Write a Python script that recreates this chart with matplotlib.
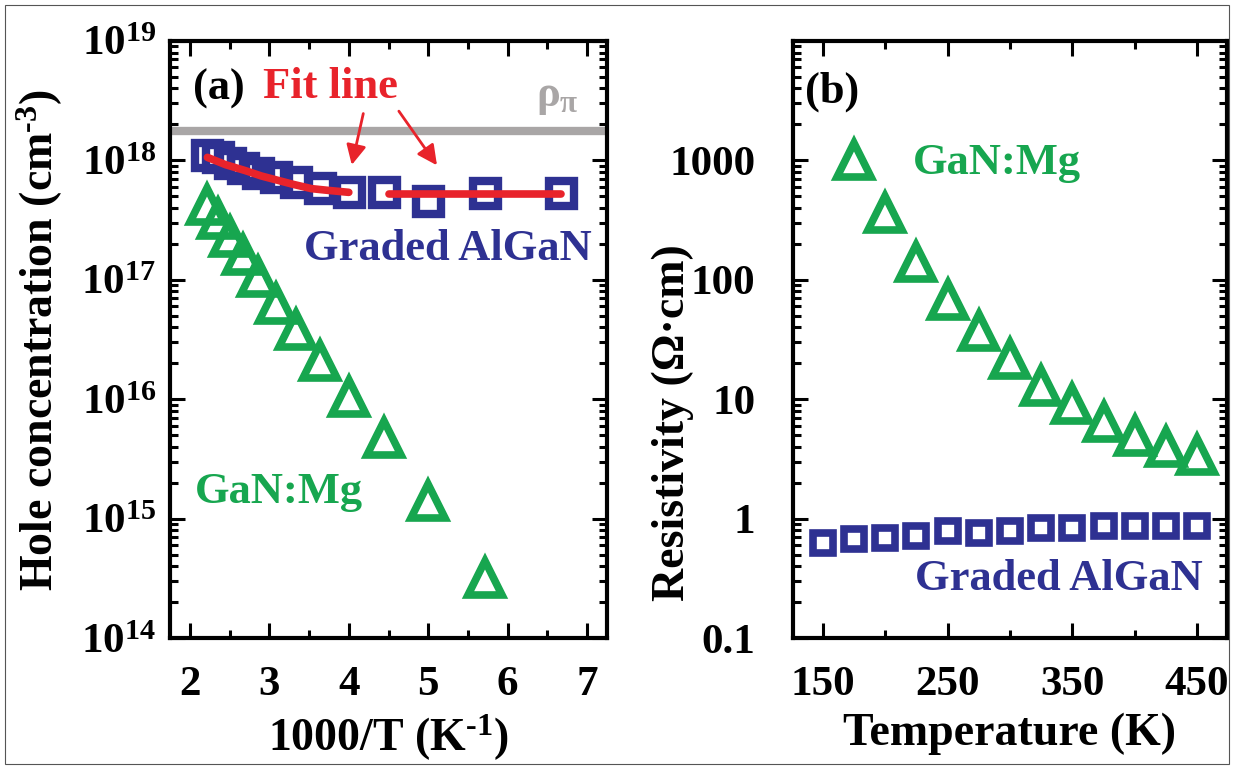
import matplotlib
matplotlib.use('Agg')
import matplotlib.pyplot as plt
from matplotlib.ticker import LogLocator, NullFormatter, FixedLocator
import numpy as np

plt.rcParams['font.family'] = ['Liberation Serif', 'DejaVu Serif']
plt.rcParams['font.weight'] = 'bold'
plt.rcParams['mathtext.fontset'] = 'custom'
plt.rcParams['mathtext.rm'] = 'Liberation Serif:bold'
plt.rcParams['mathtext.bf'] = 'Liberation Serif:bold'
plt.rcParams['mathtext.it'] = 'Liberation Serif:bold'

# ---- data, panel (a): hole concentration vs 1000/T
invT_gan = [5.71, 5.00, 4.44, 4.00, 3.64, 3.33, 3.08, 2.86, 2.67, 2.50, 2.35, 2.22]
p_gan = [3.2e14, 1.4e15, 4.7e15, 1.05e16, 2.1e16, 3.8e16, 6.3e16, 1.05e17,
         1.6e17, 2.3e17, 3.2e17, 4.2e17]
invT_alg = [6.67, 5.71, 5.00, 4.44, 4.00, 3.64, 3.33, 3.08, 2.86, 2.67, 2.50, 2.35, 2.22]
p_alg = [5.3e17, 5.3e17, 4.6e17, 5.4e17, 5.4e17, 5.9e17, 6.6e17, 7.2e17,
         7.9e17, 8.7e17, 9.6e17, 1.06e18, 1.12e18]
fit1_x = [2.22, 2.45, 2.70, 2.90, 3.11, 3.30, 3.53, 3.75, 4.00]
fit1_y = [1.06e18, 9.2e17, 8.2e17, 7.4e17, 6.8e17, 6.3e17, 5.8e17, 5.6e17, 5.4e17]
fit2_x = [4.50, 6.67]
fit2_y = [5.2e17, 5.2e17]
p_pi = 1.75e18

# ---- data, panel (b): resistivity vs T
T_gan = [175, 200, 225, 250, 275, 300, 325, 350, 375, 400, 425, 450]
rho_gan = [1000, 360, 142, 68, 37, 21.5, 13, 9.1, 6.5, 4.9, 4.0, 3.4]
T_alg = [150, 175, 200, 225, 250, 275, 300, 325, 350, 375, 400, 425, 450]
rho_alg = [0.62, 0.67, 0.69, 0.72, 0.78, 0.76, 0.79, 0.83, 0.84, 0.86, 0.86, 0.86, 0.86]

green = '#17a64f'
blue = '#2e3192'
red = '#e8232b'
gray = '#a9a6a6'

fs_tick = 31
fs_lab = 33
fs_txt = 32

fig = plt.figure(figsize=(12.34, 7.66), dpi=100)
ax1 = fig.add_axes([0.1378, 0.1671, 0.3541, 0.7794])
ax2 = fig.add_axes([0.6426, 0.1671, 0.3517, 0.7794])

# frame around the whole picture
fig.patches.append(plt.Rectangle((0.004, 0.003), 0.992, 0.99, transform=fig.transFigure,
                                 fill=False, edgecolor='#555555', lw=0.8))


def style(ax, ypad):
    for s in ax.spines.values():
        s.set_linewidth(3)
    ax.tick_params(axis='both', which='both', direction='in', top=True, right=True)
    ax.tick_params(which='major', length=11, width=2.2, labelsize=fs_tick)
    ax.tick_params(which='minor', length=6, width=2.2)
    ax.tick_params(axis='x', which='major', pad=20)
    ax.tick_params(axis='y', which='major', pad=ypad)


# panel (a)
ax1.axhline(p_pi, color=gray, lw=6, zorder=1)
ax1.plot(invT_alg, p_alg, 's', ms=18, mew=6, mfc='none', mec=blue, zorder=2)
ax1.plot(invT_gan, p_gan, '^', ms=25, mew=5.5, mfc='none', mec=green, zorder=2)
ax1.plot(fit1_x, fit1_y, '-', color=red, lw=5.5, solid_capstyle='round', zorder=3)
ax1.plot(fit2_x, fit2_y, '-', color=red, lw=5.5, solid_capstyle='round', zorder=3)
ax1.set_yscale('log')
ax1.set_xlim(1.75, 7.25)
ax1.set_ylim(1e14, 1e19)
style(ax1, 10)
ax1.xaxis.set_major_locator(FixedLocator([2, 3, 4, 5, 6, 7]))
ax1.xaxis.set_minor_locator(FixedLocator([2.5, 3.5, 4.5, 5.5, 6.5]))
ax1.set_xticklabels(['2', '3', '4', '5', '6', '7'])
ax1.yaxis.set_major_locator(FixedLocator([1e14, 1e15, 1e16, 1e17, 1e18, 1e19]))
ax1.set_yticklabels([r'$10^{%d}$' % k for k in range(14, 20)])
ax1.yaxis.set_minor_locator(LogLocator(base=10, subs=np.arange(2, 10)))
ax1.yaxis.set_minor_formatter(NullFormatter())
ax1.set_xlabel(r'1000/T (K$^{\text{-1}}$)', fontsize=fs_lab, fontweight='bold')
ax1.set_ylabel(r'Hole concentration (cm$^{\text{-3}}$)', fontsize=fs_lab, fontweight='bold')
ax1.xaxis.set_label_coords(0.5, -0.125)
ax1.yaxis.set_label_coords(-0.24, 0.5)

ax1.text(2.04, 4.0e18, '(a)', fontsize=fs_txt, va='center', ha='left', color='black')
ax1.text(2.92, 4.1e18, 'Fit line', fontsize=fs_txt, va='center', ha='left', color=red)
ax1.text(6.35, 3.4e18, r'$\rho_\pi$', fontsize=fs_txt, va='center', ha='left', color=gray)
ax1.text(3.43, 1.8e17, 'Graded AlGaN', fontsize=fs_txt, va='center', ha='left', color=blue)
ax1.text(2.06, 1.66e15, 'GaN:Mg', fontsize=fs_txt, va='center', ha='left', color=green)
ax1.annotate('', xy=(4.03, 8.7e17), xytext=(4.19, 2.6e18),
             arrowprops=dict(arrowstyle='-|>', color=red, lw=2, mutation_scale=30))
ax1.annotate('', xy=(5.13, 8.7e17), xytext=(4.61, 2.7e18),
             arrowprops=dict(arrowstyle='-|>', color=red, lw=2, mutation_scale=30))

# panel (b)
ax2.plot(T_alg, rho_alg, 's', ms=15, mew=5.5, mfc='none', mec=blue, zorder=2)
ax2.plot(T_gan, rho_gan, '^', ms=25, mew=5.5, mfc='none', mec=green, zorder=2)
ax2.set_yscale('log')
ax2.set_xlim(126, 474)
ax2.set_ylim(0.1, 1e4)
style(ax2, 27)
ax2.xaxis.set_major_locator(FixedLocator([150, 250, 350, 450]))
ax2.xaxis.set_minor_locator(FixedLocator([200, 300, 400]))
ax2.set_xticklabels(['150', '250', '350', '450'])
ax2.yaxis.set_major_locator(FixedLocator([0.1, 1, 10, 100, 1000]))
ax2.set_yticklabels(['0.1', '1', '10', '100', '1000'])
ax2.yaxis.set_minor_locator(LogLocator(base=10, subs=np.arange(2, 10)))
ax2.yaxis.set_minor_formatter(NullFormatter())
ax2.set_xlabel('Temperature (K)', fontsize=fs_lab, fontweight='bold')
ax2.set_ylabel('Resistivity (\u03a9\u00b7cm)', fontsize=fs_lab, fontweight='bold')
ax2.xaxis.set_label_coords(0.5, -0.125)
ax2.yaxis.set_label_coords(-0.228, 0.36)

ax2.text(135.6, 3760, '(b)', fontsize=fs_txt, va='center', ha='left', color='black')
ax2.text(222, 945, 'GaN:Mg', fontsize=fs_txt, va='center', ha='left', color=green)
ax2.text(223.6, 0.31, 'Graded AlGaN', fontsize=fs_txt, va='center', ha='left', color=blue)

plt.savefig('out.png', dpi=100)
